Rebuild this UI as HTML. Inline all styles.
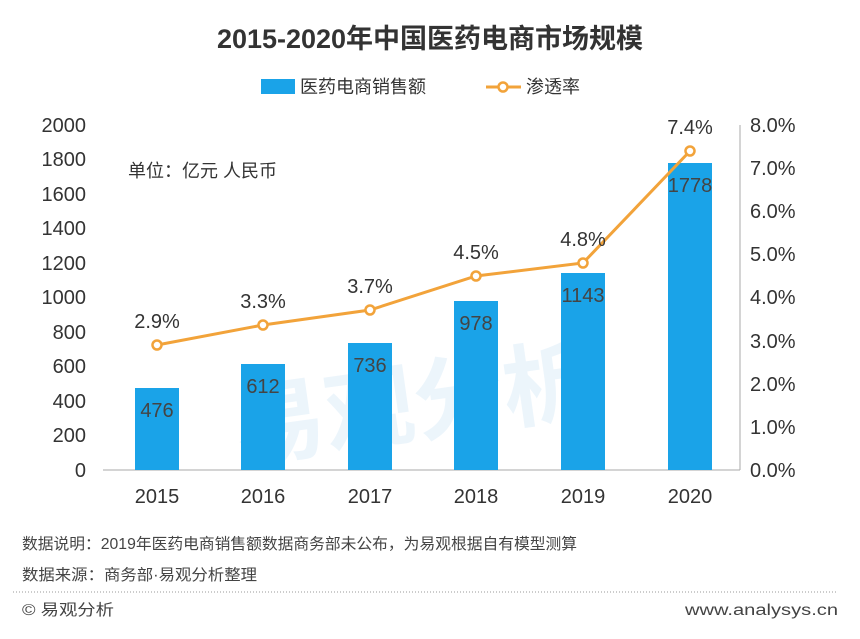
<!DOCTYPE html>
<html><head><meta charset="utf-8"><style>
body{margin:0;width:860px;height:634px;background:#fff;overflow:hidden;font-family:"Liberation Sans","Noto Sans CJK SC",sans-serif}
</style></head><body>
<svg width="860" height="634" xmlns="http://www.w3.org/2000/svg" font-family="Liberation Sans, Noto Sans CJK SC, sans-serif">
<text x="430" y="48" text-anchor="middle" font-size="27" font-weight="bold" fill="#333">2015-2020年中国医药电商市场规模</text>
<rect x="261" y="79" width="34" height="15" fill="#1aa3e8"/>
<text x="300" y="93" font-size="18" fill="#333">医药电商销售额</text>
<line x1="486" y1="87" x2="521" y2="87" stroke="#f2a33a" stroke-width="3"/>
<circle cx="503" cy="87" r="4.5" fill="#fff" stroke="#f2a33a" stroke-width="2.5"/>
<text x="526" y="93" font-size="18" fill="#333">渗透率</text>
<g font-size="90" font-weight="bold" fill="#e8f3fb" opacity="0.8">
<text x="240" y="460" transform="rotate(-8 240 460)">易观分析</text>
</g>
<line x1="103" y1="470" x2="740" y2="470" stroke="#aaa" stroke-width="1"/>
<line x1="740" y1="125" x2="740" y2="470" stroke="#aaa" stroke-width="1"/>
<g font-size="20" fill="#333" text-anchor="end">
<text x="86" y="477">0</text><text x="86" y="442">200</text><text x="86" y="408">400</text><text x="86" y="373">600</text><text x="86" y="339">800</text><text x="86" y="304">1000</text><text x="86" y="270">1200</text><text x="86" y="235">1400</text><text x="86" y="201">1600</text><text x="86" y="166">1800</text><text x="86" y="132">2000</text>
</g>
<g font-size="20" fill="#333">
<text x="750" y="477">0.0%</text><text x="750" y="434">1.0%</text><text x="750" y="391">2.0%</text><text x="750" y="348">3.0%</text><text x="750" y="304">4.0%</text><text x="750" y="261">5.0%</text><text x="750" y="218">6.0%</text><text x="750" y="175">7.0%</text><text x="750" y="132">8.0%</text>
</g>
<text x="128" y="177" font-size="18" fill="#333">单位：亿元 人民币</text>
<g fill="#1aa3e8">
<rect x="135" y="388" width="44" height="82"/>
<rect x="241" y="364" width="44" height="106"/>
<rect x="348" y="343" width="44" height="127"/>
<rect x="454" y="301" width="44" height="169"/>
<rect x="561" y="273" width="44" height="197"/>
<rect x="668" y="163" width="44" height="307"/>
</g>
<g font-size="20" fill="#444" text-anchor="middle">
<text x="157" y="417">476</text><text x="263" y="393">612</text><text x="370" y="372">736</text><text x="476" y="330">978</text><text x="583" y="302">1143</text><text x="690" y="192">1778</text>
</g>
<g font-size="20" fill="#333" text-anchor="middle">
<text x="157" y="503">2015</text><text x="263" y="503">2016</text><text x="370" y="503">2017</text><text x="476" y="503">2018</text><text x="583" y="503">2019</text><text x="690" y="503">2020</text>
</g>
<polyline points="157,345 263,325 370,310 476,276 583,263 690,151" fill="none" stroke="#f2a33a" stroke-width="3"/>
<g fill="#fff" stroke="#f2a33a" stroke-width="2.5">
<circle cx="157" cy="345" r="4.5"/><circle cx="263" cy="325" r="4.5"/><circle cx="370" cy="310" r="4.5"/><circle cx="476" cy="276" r="4.5"/><circle cx="583" cy="263" r="4.5"/><circle cx="690" cy="151" r="4.5"/>
</g>
<g font-size="20" fill="#333" text-anchor="middle">
<text x="157" y="328">2.9%</text><text x="263" y="308">3.3%</text><text x="370" y="293">3.7%</text><text x="476" y="259">4.5%</text><text x="583" y="246">4.8%</text><text x="690" y="134">7.4%</text>
</g>
<g font-size="15.5" fill="#444">
<text x="22" y="549" textLength="555" lengthAdjust="spacingAndGlyphs">数据说明：2019年医药电商销售额数据商务部未公布，为易观根据自有模型测算</text>
<text x="22" y="580" textLength="235" lengthAdjust="spacingAndGlyphs">数据来源：商务部·易观分析整理</text>
<text x="22" y="615" textLength="92" lengthAdjust="spacingAndGlyphs">© 易观分析</text>
<text x="838" y="615" text-anchor="end" textLength="153" lengthAdjust="spacingAndGlyphs">www.analysys.cn</text>
</g>
<line x1="13" y1="592" x2="836" y2="592" stroke="#999" stroke-width="1" stroke-dasharray="1,2"/>
</svg>
</body></html>
